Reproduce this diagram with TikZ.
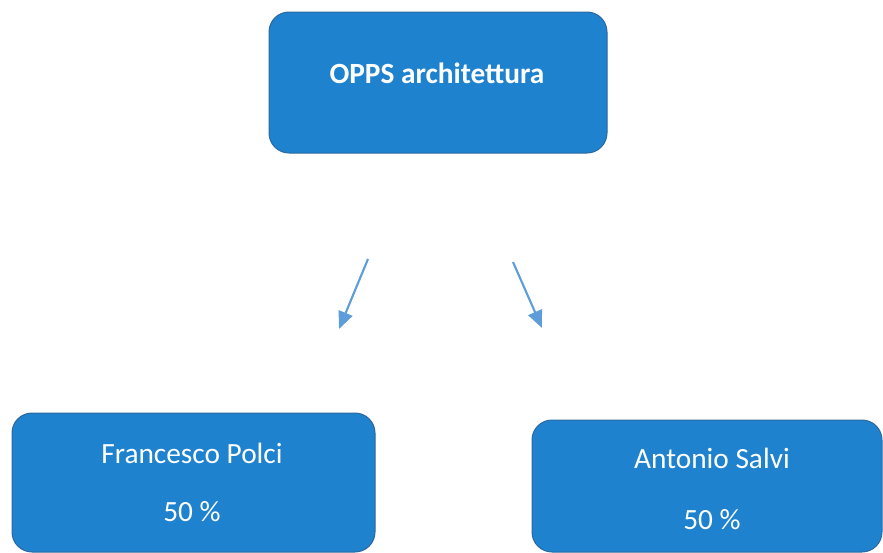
\documentclass[tikz,border=0pt]{standalone}
\usepackage{fontspec}
\setmainfont{Carlito}
\usetikzlibrary{arrows.meta}

\definecolor{boxblue}{RGB}{31,130,206}
\definecolor{boxedge}{RGB}{45,105,160}
\definecolor{arrowblue}{RGB}{93,157,218}

\tikzset{every picture/.style={line width=0.75pt}}
\tikzset{
  ownerbox/.style={draw=boxedge, fill=boxblue, rounded corners=15pt, inner sep=0pt},
  boxtext/.style={text=white, font=\fontsize{22}{26}\selectfont, inner sep=0pt},
  share/.style={draw=arrowblue, line width=1.6pt, -{Triangle[length=13pt,width=11pt]}}
}

\begin{document}
\begin{tikzpicture}[x=0.75pt,y=0.75pt,yscale=-1,xscale=1]
	\path (0,0) rectangle (883,553); %diagram frame

	%Rounded Rect [id:opps]
	\node [ownerbox, minimum width=253.5pt, minimum height=105.75pt] (opps) at (438,82.5) {};
	%Rounded Rect [id:polci]
	\node [ownerbox, minimum width=272.25pt, minimum height=104.25pt] (polci) at (193.5,482.5) {};
	%Rounded Rect [id:salvi]
	\node [ownerbox, minimum width=262.5pt, minimum height=99pt] (salvi) at (707,486) {};

	%Straight Lines [id:left]
	\coordinate (leftA) at (368,259);
	\coordinate (leftB) at (339,329);
	\draw [share] (leftA) -- (leftB);
	%Straight Lines [id:right]
	\coordinate (rightA) at (513,262);
	\coordinate (rightB) at (542,328);
	\draw [share] (rightA) -- (rightB);

	% Text Node
	\node [boxtext, font=\fontsize{22}{26}\selectfont\bfseries] (oppsname) at (437,73) {OPPS architettura};
	% Text Node
	\node [boxtext] (polciname) at (192,453) {Francesco Polci};
	% Text Node
	\node [boxtext] (polcishare) at (192,512) {50 \%};
	% Text Node
	\node [boxtext] (salviname) at (712,458) {Antonio Salvi};
	% Text Node
	\node [boxtext] (salvishare) at (712,520) {50 \%};

\end{tikzpicture}
\end{document}
